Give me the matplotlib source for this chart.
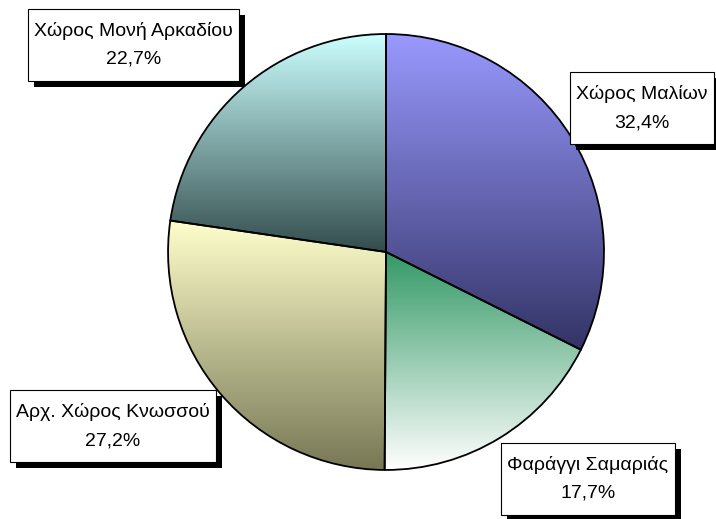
import numpy as np
import matplotlib
matplotlib.use("Agg")
import matplotlib.pyplot as plt
from matplotlib.colors import LinearSegmentedColormap
from matplotlib import transforms
from matplotlib.patches import Rectangle

labels = ["Χώρος Μαλίων", "Φαράγγι Σαμαριάς", "Αρχ. Χώρος Κνωσσού", "Χώρος Μονή Αρκαδίου"]
values = [32.4, 17.7, 27.2, 22.7]
pct_text = ["32,4%", "17,7%", "27,2%", "22,7%"]
# gradient colours: top -> bottom
grad_top = ["#9999FF", "#339966", "#FFFFCC", "#CCFFFF"]
grad_bot = ["#333366", "#FFFFFF", "#777755", "#334C4C"]
label_pos = [(1.174, 0.660), (0.927, -1.041), (-1.252, -0.800), (-1.158, 0.950)]

plt.rcParams['font.family'] = ['Liberation Sans', 'DejaVu Sans']

W, H = 716, 519
fig = plt.figure(figsize=(W / 100, H / 100), dpi=100)
ax = fig.add_axes([0, 0, 1, 1])
ax.set_xlim(-1.771, 1.514)
ax.set_ylim(-1.225, 1.156)
ax.set_aspect('equal')
ax.axis('off')

wedges, _ = ax.pie(values, startangle=90, counterclock=False, radius=1.0,
                   wedgeprops=dict(edgecolor='black', linewidth=1.3, facecolor='none'))

for w, ct, cb in zip(wedges, grad_top, grad_bot):
    ext = w.get_path().get_extents()
    cmap = LinearSegmentedColormap.from_list('g', [cb, ct])
    grad = np.linspace(0, 1, 256).reshape(-1, 1)
    im = ax.imshow(grad, cmap=cmap, origin='lower', aspect='auto',
                   extent=[ext.x0, ext.x1, ext.y0, ext.y1], zorder=1,
                   interpolation='bilinear')
    im.set_clip_path(w)
    w.set_zorder(2)

ax.set_xlim(-1.771, 1.514)
ax.set_ylim(-1.225, 1.156)

FS = 14
BOX_H = 72
PADX = 6
SHADOW = 6
fig.canvas.draw()
renderer = fig.canvas.get_renderer()

for lab, pct, (lx, ly) in zip(labels, pct_text, label_pos):
    cx, cy = ax.transData.transform((lx, ly))
    t1 = ax.text(lx, ly, lab, ha='center', va='baseline', fontsize=FS, zorder=5,
                 transform=transforms.offset_copy(ax.transData, fig=fig, x=0, y=9, units='dots'))
    t2 = ax.text(lx, ly, pct, ha='center', va='baseline', fontsize=FS, zorder=5,
                 transform=transforms.offset_copy(ax.transData, fig=fig, x=0, y=-19, units='dots'))
    bw = max(t1.get_window_extent(renderer).width, t2.get_window_extent(renderer).width) + 2 * PADX
    x0, y0 = cx - bw / 2, cy - BOX_H / 2
    shadow = Rectangle((x0 + SHADOW, y0 - SHADOW), bw, BOX_H, transform=None,
                       facecolor='black', edgecolor='black', linewidth=0, zorder=3)
    box = Rectangle((x0, y0), bw, BOX_H, transform=None,
                    facecolor='white', edgecolor='black', linewidth=0.8, zorder=4)
    ax.add_artist(shadow)
    ax.add_artist(box)

fig.savefig("out.png", dpi=100)
